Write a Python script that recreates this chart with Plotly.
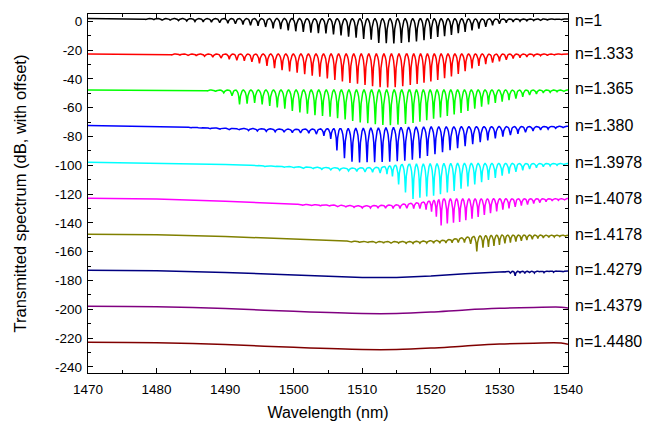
import numpy as np
import plotly.graph_objects as go

# ---------------------------------------------------------------------------
# Transmission spectra of the fibre sensor in liquids of different index n.
# Each curve: a slowly varying baseline (knots) plus a comb of resonance dips
# given by dip wavelength (nm) and dip depth below the local baseline (dB).
# ---------------------------------------------------------------------------

labels = ["n=1", "n=1.333", "n=1.365", "n=1.380", "n=1.3978",
          "n=1.4078", "n=1.4178", "n=1.4279", "n=1.4379", "n=1.4480"]
label_db = [0.3, -22.4, -46.6, -72.1, -98.0, -122.8, -147.8, -172.3, -197.3, -222.6]
colors = ["#000000", "#FF0000", "#00FF00", "#0000FF", "#00FFFF",
          "#FF00FF", "#808000", "#000080", "#800080", "#800000"]

# ---- baselines (nm, dB with offset) ----
base_nm_n1000 = [1470, 1500, 1540]
base_db_n1000 = [1.8, 1.8, 1.5]
base_nm_n1333 = [1470, 1540]
base_db_n1333 = [-22.8, -22.8]
base_nm_n1365 = [1470, 1540]
base_db_n1365 = [-47.8, -47.8]
base_nm_n1380 = [1470, 1480, 1490, 1500, 1510, 1520, 1530, 1540]
base_db_n1380 = [-72.5, -73.0, -74.3, -75.0, -74.5, -73.5, -73.2, -73.0]
base_nm_n13978 = [1470, 1480, 1490, 1500, 1508, 1512, 1516, 1525, 1540]
base_db_n13978 = [-98.0, -98.5, -99.5, -101.0, -102.0, -101.5, -99.5, -98.8, -98.8]
base_nm_n14078 = [1470, 1480, 1490, 1500, 1510, 1515, 1519, 1522, 1540]
base_db_n14078 = [-123.0, -123.5, -125.0, -127.0, -128.2, -127.5, -125.5, -123.5, -123.2]
base_nm_n14178 = [1470, 1480, 1490, 1500, 1510, 1517, 1522, 1526, 1530, 1540]
base_db_n14178 = [-148.0, -148.3, -149.5, -151.5, -153.0, -153.0, -152.0, -149.5, -148.5, -148.6]
base_nm_n14279 = [1470, 1480, 1490, 1500, 1510, 1515, 1520, 1525, 1530, 1540]
base_db_n14279 = [-173.0, -173.3, -174.5, -176.5, -178.0, -178.0, -177.0, -175.3, -173.8, -173.5]
base_nm_n14379 = [1470, 1480, 1490, 1500, 1510, 1515, 1520, 1525, 1530, 1535, 1539, 1540]
base_db_n14379 = [-198.0, -198.3, -199.5, -201.5, -203.0, -203.0, -202.0, -200.5, -199.4, -198.8, -198.6, -199.2]
base_nm_n14480 = [1470, 1480, 1490, 1500, 1510, 1515, 1520, 1525, 1530, 1535, 1539, 1540]
base_db_n14480 = [-223.0, -223.3, -224.5, -226.5, -228.0, -228.0, -227.0, -225.5, -224.2, -223.6, -223.5, -224.3]

# ---- resonance dips (nm, depth in dB) ----
dip_nm_n1000 = [1476.0, 1477.2, 1478.4, 1479.6, 1480.8, 1482.0, 1483.2, 1484.4, 1485.6, 1486.8,
                1488.0, 1489.2, 1490.4, 1491.5, 1492.6, 1493.7, 1494.8, 1495.9, 1497.0, 1498.1,
                1499.2, 1500.3, 1501.4, 1502.5, 1503.6, 1504.7, 1505.8, 1506.9, 1508.0, 1509.1,
                1510.2, 1511.3, 1512.4, 1513.5, 1514.6, 1515.7, 1516.8, 1517.9, 1519.0, 1520.0,
                1521.0, 1522.0, 1523.0, 1524.0, 1525.0, 1526.0, 1527.0, 1528.0, 1529.0, 1530.0,
                1531.0, 1532.0, 1533.0, 1534.0, 1535.0, 1536.0, 1537.0, 1538.0, 1539.0]
dip_db_n1000 = [0.4, 0.5, 0.6, 0.8, 1.0, 1.2, 1.4, 1.7, 2.0, 2.2,
                2.5, 2.8, 3.2, 3.6, 4.2, 4.6, 5.0, 5.8, 6.8, 7.3,
                8.2, 8.8, 9.3, 9.8, 10.0, 10.2, 11.0, 11.6, 12.5, 13.2,
                14.0, 14.6, 16.8, 17.0, 17.2, 16.8, 16.2, 15.8, 14.8, 14.0,
                12.6, 12.0, 11.2, 10.0, 9.0, 8.0, 6.8, 5.5, 4.4, 3.4,
                2.6, 2.0, 1.6, 1.3, 1.1, 0.9, 0.8, 0.7, 0.6]

dip_nm_n1333 = [1481.0, 1482.2, 1483.4, 1484.6, 1485.8, 1487.0, 1488.2, 1489.4, 1490.6, 1491.7,
                1492.8, 1493.9, 1495.0, 1496.1, 1497.2, 1498.3, 1499.4, 1500.5, 1501.6, 1502.7,
                1503.8, 1504.9, 1506.0, 1507.1, 1508.2, 1509.3, 1510.4, 1511.5, 1512.6, 1513.7,
                1514.8, 1515.9, 1517.0, 1518.0, 1519.0, 1520.0, 1521.0, 1522.0, 1523.0, 1524.0,
                1525.0, 1526.0, 1527.0, 1528.0, 1529.0, 1530.0, 1531.0, 1532.0, 1533.0, 1534.0,
                1535.0, 1536.0, 1537.0, 1538.0, 1539.0]
dip_db_n1333 = [0.5, 0.6, 0.8, 0.9, 1.2, 1.6, 2.1, 2.8, 3.6, 4.3,
                4.8, 5.4, 6.5, 8.2, 9.8, 11.2, 12.0, 13.0, 14.0, 15.0,
                15.8, 17.0, 18.0, 19.0, 20.1, 20.6, 21.4, 22.4, 23.0, 23.2,
                23.0, 22.4, 21.5, 20.8, 20.0, 19.0, 18.0, 16.8, 15.5, 13.8,
                12.0, 10.0, 8.2, 7.0, 6.0, 5.0, 4.0, 3.2, 2.5, 2.0,
                1.5, 1.2, 1.0, 0.8, 0.6]

dip_nm_n1365 = [1487.4, 1488.6, 1489.8, 1491.0, 1492.1, 1493.2, 1494.3, 1495.4, 1496.5, 1497.6,
                1498.7, 1499.8, 1500.9, 1502.0, 1503.1, 1504.2, 1505.3, 1506.4, 1507.5, 1508.6,
                1509.7, 1510.8, 1511.9, 1513.0, 1514.1, 1515.2, 1516.3, 1517.4, 1518.4, 1519.4,
                1520.4, 1521.4, 1522.4, 1523.4, 1524.4, 1525.4, 1526.4, 1527.4, 1528.4, 1529.4,
                1530.4, 1531.4, 1532.4, 1533.4, 1534.4, 1535.4, 1536.4, 1537.4, 1538.4, 1539.4]
dip_db_n1365 = [0.6, 1.0, 2.0, 4.0, 10.0, 9.5, 9.0, 10.0, 11.0, 12.0,
                13.0, 14.5, 15.5, 16.5, 17.5, 18.0, 18.5, 19.5, 20.5, 21.5,
                22.5, 23.0, 23.8, 24.2, 24.5, 24.0, 23.5, 22.8, 22.0, 21.0,
                20.0, 19.0, 18.0, 17.0, 16.0, 14.5, 13.0, 11.5, 10.0, 9.0,
                8.0, 7.0, 6.0, 4.8, 3.5, 2.8, 2.0, 1.6, 1.2, 0.9]

dip_nm_n1380 = [1485.0, 1486.4, 1487.8, 1489.2, 1490.6, 1492.0, 1493.4, 1494.7, 1496.0, 1497.3,
                1498.6, 1499.8, 1501.0, 1502.2, 1503.3, 1504.4, 1505.4, 1506.3, 1507.4, 1508.5,
                1509.6, 1510.7, 1511.8, 1512.9, 1514.0, 1515.1, 1516.2, 1517.3, 1518.4, 1519.5,
                1520.6, 1521.7, 1522.8, 1523.9, 1525.0, 1526.1, 1527.2, 1528.3, 1529.4, 1530.5,
                1531.6, 1532.7, 1533.8, 1534.9, 1536.0, 1537.1, 1538.2, 1539.3]
dip_db_n1380 = [0.5, 0.6, 0.8, 0.9, 1.0, 1.2, 1.4, 1.6, 1.8, 2.0,
                2.2, 2.4, 2.6, 3.0, 3.6, 4.8, 7.0, 15.0, 20.5, 23.0,
                23.5, 23.5, 23.6, 23.5, 23.4, 23.2, 23.0, 22.5, 21.5, 20.0,
                18.8, 17.6, 16.2, 14.8, 13.5, 12.0, 10.8, 9.5, 8.2, 7.0,
                6.0, 5.0, 4.0, 3.2, 2.5, 1.9, 1.4, 1.0]

dip_nm_n13978 = [1493.0, 1494.4, 1495.8, 1497.2, 1498.6, 1500.0, 1501.4, 1502.8, 1504.1, 1505.4,
                 1506.7, 1508.0, 1509.2, 1510.4, 1511.5, 1512.6, 1513.6, 1514.4, 1515.3, 1516.3,
                 1517.4, 1518.4, 1519.4, 1520.4, 1521.4, 1522.4, 1523.4, 1524.4, 1525.4, 1526.4,
                 1527.4, 1528.4, 1529.4, 1530.4, 1531.4, 1532.4, 1533.4, 1534.4, 1535.4, 1536.4,
                 1537.4, 1538.4, 1539.4]
dip_db_n13978 = [0.4, 0.5, 0.6, 0.7, 0.8, 0.9, 1.0, 1.2, 1.4, 1.6,
                 1.8, 2.0, 2.4, 3.0, 3.4, 4.2, 5.5, 7.5, 13.5, 19.5,
                 24.0, 23.2, 22.5, 22.0, 21.0, 20.0, 19.0, 17.5, 16.0, 14.5,
                 13.0, 11.5, 10.0, 8.5, 7.0, 5.8, 4.8, 3.8, 3.0, 2.3,
                 1.7, 1.3, 1.0]

dip_nm_n14078 = [1500.0, 1501.3, 1502.6, 1503.9, 1505.2, 1506.4, 1507.6, 1508.8, 1510.0, 1511.2,
                 1512.3, 1513.4, 1514.5, 1515.5, 1516.5, 1517.5, 1518.4, 1519.3, 1520.1, 1520.8,
                 1521.5, 1522.4, 1523.3, 1524.2, 1525.1, 1526.0, 1526.9, 1527.8, 1528.7, 1529.6,
                 1530.5, 1531.4, 1532.3, 1533.2, 1534.1, 1535.0, 1535.9, 1536.8, 1537.7, 1538.6,
                 1539.5]
dip_db_n14078 = [0.5, 0.6, 0.7, 0.8, 0.9, 1.0, 1.2, 1.3, 1.5, 1.7,
                 1.9, 2.1, 2.4, 2.8, 3.2, 3.8, 4.4, 5.5, 7.5, 11.5,
                 18.0, 17.0, 16.5, 16.0, 14.8, 13.8, 12.5, 11.2, 10.0, 8.8,
                 7.6, 6.6, 5.6, 4.8, 4.0, 3.3, 2.7, 2.1, 1.6, 1.2,
                 0.9]

dip_nm_n14178 = [1506.0, 1507.2, 1508.4, 1509.6, 1510.8, 1512.0, 1513.1, 1514.2, 1515.3, 1516.4,
                 1517.4, 1518.4, 1519.4, 1520.4, 1521.3, 1522.2, 1523.1, 1524.0, 1524.9, 1525.8,
                 1526.7, 1527.6, 1528.4, 1529.2, 1530.0, 1530.8, 1531.6, 1532.4, 1533.2, 1534.0,
                 1534.8, 1535.6, 1536.4, 1537.2, 1538.0, 1538.8, 1539.6]
dip_db_n14178 = [0.4, 0.5, 0.6, 0.7, 0.8, 0.9, 1.0, 1.1, 1.2, 1.3,
                 1.4, 1.5, 1.6, 1.8, 2.0, 2.2, 2.5, 2.9, 3.5, 5.0,
                 10.5, 8.2, 7.8, 7.4, 6.8, 5.8, 5.2, 4.6, 4.0, 3.4,
                 2.9, 2.4, 2.0, 1.6, 1.3, 1.0, 0.8]

dip_nm_n14279 = [1530.8, 1531.6, 1532.3, 1533.0, 1533.7, 1534.4, 1535.1, 1535.8, 1536.5, 1537.2,
                 1537.9, 1538.6, 1539.3]
dip_db_n14279 = [0.6, 1.2, 3.0, 1.0, 1.4, 0.8, 1.2, 0.7, 1.0, 0.6,
                 0.8, 0.5, 0.6]

series = [
    (base_nm_n1000, base_db_n1000, dip_nm_n1000, dip_db_n1000),
    (base_nm_n1333, base_db_n1333, dip_nm_n1333, dip_db_n1333),
    (base_nm_n1365, base_db_n1365, dip_nm_n1365, dip_db_n1365),
    (base_nm_n1380, base_db_n1380, dip_nm_n1380, dip_db_n1380),
    (base_nm_n13978, base_db_n13978, dip_nm_n13978, dip_db_n13978),
    (base_nm_n14078, base_db_n14078, dip_nm_n14078, dip_db_n14078),
    (base_nm_n14178, base_db_n14178, dip_nm_n14178, dip_db_n14178),
    (base_nm_n14279, base_db_n14279, dip_nm_n14279, dip_db_n14279),
    (base_nm_n14379, base_db_n14379, [], []),
    (base_nm_n14480, base_db_n14480, [], []),
]

# normalised dip profile (offset as a fraction of the half-gap, relative drop)
PROFILE_U = np.array([-1.0, -0.7, -0.45, -0.25, -0.1, 0.0, 0.1, 0.25, 0.45, 0.7, 1.0])
PROFILE_F = np.array([0.0, 0.08, 0.2, 0.42, 0.78, 1.0, 0.78, 0.42, 0.2, 0.08, 0.0])


def spectrum(bx, by, dx, dd):
    bx = np.asarray(bx, float)
    by = np.asarray(by, float)
    dx = np.asarray(dx, float)
    dd = np.asarray(dd, float)
    xs, fr, dep = [], [], []
    if len(dx):
        gaps = np.diff(dx) if len(dx) > 1 else np.array([1.0])
        prev_gap = np.r_[gaps[0], gaps]
        next_gap = np.r_[gaps, gaps[-1]]
        half = 0.47 * np.minimum(prev_gap, next_gap)
        for c, h, d in zip(dx, half, dd):
            xs.extend(c + PROFILE_U * h)
            fr.extend(PROFILE_F)
            dep.extend([d] * len(PROFILE_U))
        for k in bx:
            if np.all(np.abs(k - dx) > half):
                xs.append(k)
                fr.append(0.0)
                dep.append(0.0)
    else:
        xs, fr, dep = list(bx), [0.0] * len(bx), [0.0] * len(bx)
    xs = np.asarray(xs)
    order = np.argsort(xs)
    xs = xs[order]
    ys = np.interp(xs, bx, by) - np.asarray(dep)[order] * np.asarray(fr)[order]
    return xs, ys


FONT = "Liberation Sans, Arial, sans-serif"

fig = go.Figure()
for (bx, by, dx, dd), col, lab in zip(series, colors, labels):
    x, y = spectrum(bx, by, dx, dd)
    fig.add_trace(go.Scatter(
        x=x, y=y, mode="lines", name=lab,
        line=dict(color=col, width=1.5, shape="linear" if len(dx) else "spline"),
        hoverinfo="skip", showlegend=False,
    ))

for lab, yv in zip(labels, label_db):
    fig.add_annotation(x=1.0104, xref="paper", y=yv, yref="y", text=lab,
                       showarrow=False, xanchor="left", yanchor="middle",
                       font=dict(family=FONT, size=16, color="black"))

y_ticks = [0, -20, -40, -60, -80, -100, -120, -140, -160, -180, -200, -220, -240]
y_ticktext = ["0", "-20", "-40", "-60", "-80", "-100", "-120", "-140", "-160",
              "-180", "-200", "-220", "-240"]
x_ticks = [1470, 1480, 1490, 1500, 1510, 1520, 1530, 1540]

fig.update_layout(
    width=649, height=422,
    margin=dict(l=88, r=81, t=14, b=49, autoexpand=False),
    paper_bgcolor="white", plot_bgcolor="white",
    font=dict(family=FONT, color="black"),
)
fig.update_xaxes(
    range=[1470, 1540], tickvals=x_ticks, ticktext=[str(v) for v in x_ticks],
    showline=True, linecolor="black", linewidth=1.3, mirror="ticks",
    ticks="inside", ticklen=5, tickwidth=1.2, tickcolor="black",
    minor=dict(tickvals=[v + 5 for v in x_ticks[:-1]], ticks="inside",
               ticklen=3, tickwidth=1.2, tickcolor="black"),
    showgrid=False, zeroline=False,
    tickfont=dict(family=FONT, size=13.5, color="black"), ticklabelstandoff=4,
    title=dict(text="Wavelength (nm)", font=dict(family=FONT, size=16, color="black"),
               standoff=10),
)
fig.update_yaxes(
    range=[-244.3, 5], tickvals=y_ticks, ticktext=y_ticktext,
    showline=True, linecolor="black", linewidth=1.3, mirror="ticks",
    ticks="inside", ticklen=5, tickwidth=1.2, tickcolor="black",
    minor=dict(tickvals=[v - 10 for v in y_ticks[:-1]], ticks="inside",
               ticklen=3, tickwidth=1.2, tickcolor="black"),
    showgrid=False, zeroline=False,
    tickfont=dict(family=FONT, size=13.5, color="black"), ticklabelstandoff=2,
    title=dict(text="Transmitted spectrum (dB, with offset)",
               font=dict(family=FONT, size=16.5, color="black"), standoff=24),
)

fig.write_html("out.html")
